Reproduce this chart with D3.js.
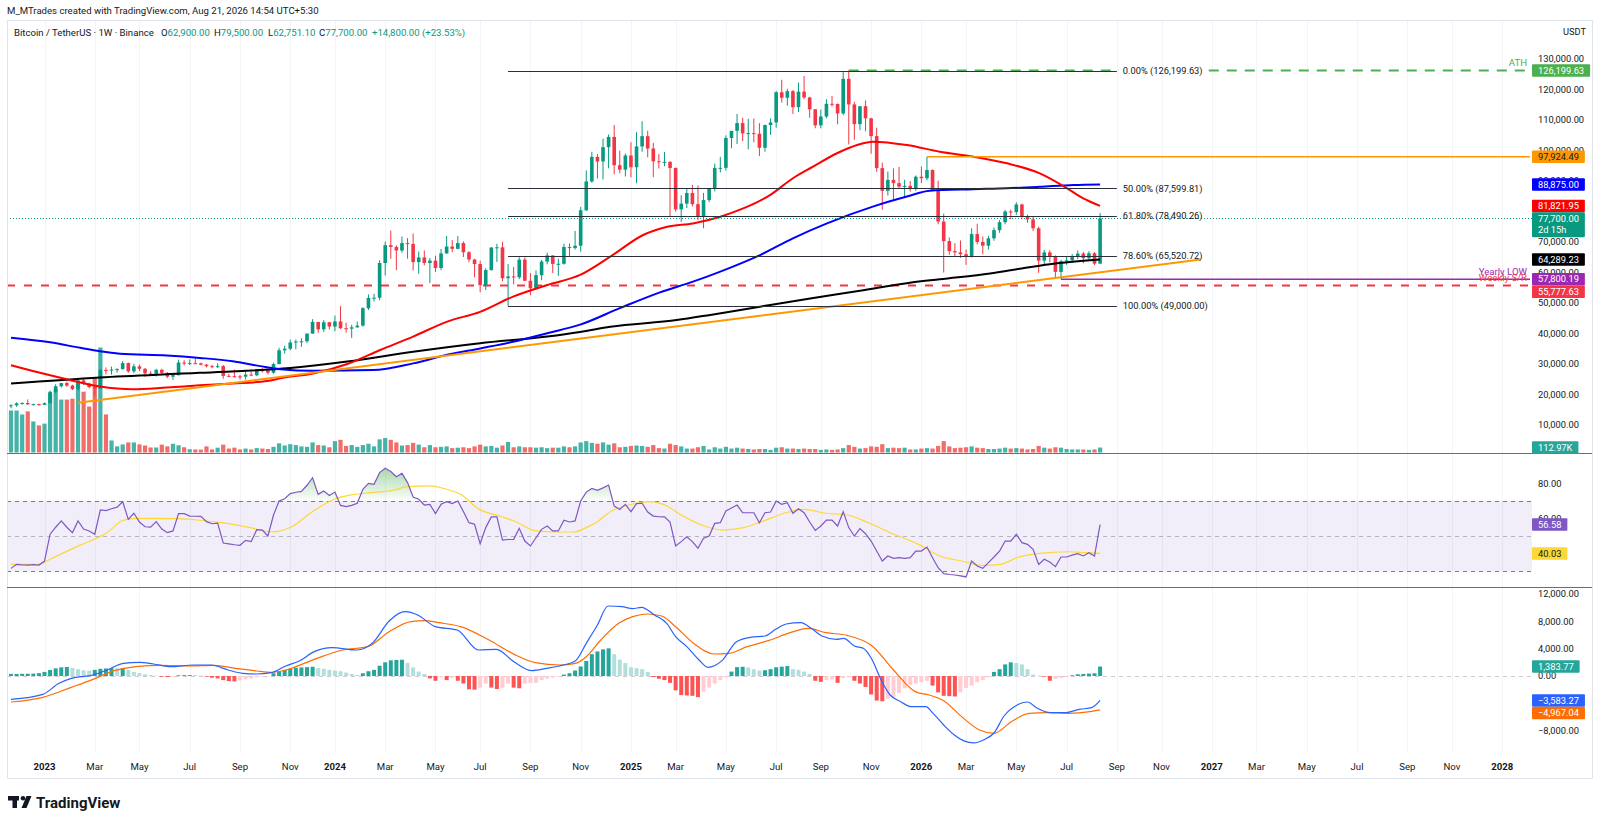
<!DOCTYPE html>
<html><head><meta charset="utf-8"><title>BTCUSDT 1W</title>
<script src="https://cdn.jsdelivr.net/npm/d3@7/dist/d3.min.js"></script>
<style>
html,body{margin:0;padding:0;background:#fff;}
svg{display:block;font-family:Roboto,"Liberation Sans",Arial,sans-serif;}
</style></head><body>
<svg id="chart" width="1600" height="825"></svg>
<script>
// ---------------- DATA ----------------
const startDate = "2022-11-21"; // first weekly bar (Monday)
const opens = [16290,16460,17100,17210,16780,16840,16620,17130,20880,22710,
23740,22930,21780,24630,23560,22430,21990,28040,27990,28170,
28330,30300,27590,29230,28430,26920,26750,28080,27110,25840,
26340,30470,30170,30290,30240,29780,29280,29030,29300,26100,
26000,25970,25840,26530,26300,27990,27930,27150,29990,34500,
35010,37060,37360,37450,39970,43790,41370,43700,42280,43950,
41730,41580,42030,42580,48300,51660,51730,63110,68950,68390,
67210,69640,69360,63420,64940,63120,63900,61480,66270,68510,
67760,69650,66640,64250,62770,55850,60800,68160,68260,58120,
58710,58430,64220,57300,54840,59130,63580,65600,62820,62860,
68360,68000,68770,80400,89850,97900,96400,101100,104460,95180,
93720,98360,94500,101330,104700,100650,96460,96150,96280,94270,
80700,82580,86080,82400,78370,83750,87500,94300,94320,104100,
106450,109000,105600,105700,105500,100900,108350,109200,119100,117300,
119450,114200,119300,117400,113500,108250,111150,115300,115250,112150,
123500,115100,108640,114530,110540,104720,94220,86800,90360,89300,
88150,88400,87700,91400,90900,93600,87000,76700,70300,67000,
66600,66000,65300,72600,70000,68800,71200,73900,76500,80000,
79800,82300,78200,77400,74500,63900,66600,65100,60200,63700,
64000,65300,66200,64700,66300,62900];
const highs = [16800,17430,17420,18390,16960,16970,17400,21260,23370,23820,
24250,23200,25250,25130,23880,22600,28470,28870,29190,28600,
31000,30480,30040,29820,28660,27660,28450,28450,27350,26800,
31430,31280,31500,31800,30440,29990,29730,30250,29690,26820,
28140,26430,27480,27480,28050,28600,28000,30400,35280,35980,
37980,38000,38440,39980,44700,43800,44400,43800,45880,48970,
43580,42840,43880,48590,52820,52990,64000,70140,73780,68920,
71770,71280,72800,66870,67230,64730,65500,67700,71980,70600,
71950,70200,66990,64500,63860,61400,68370,69400,70080,62750,
61800,65000,64960,59800,60670,64130,66500,65620,64470,69400,
69500,73620,81500,93480,99590,98870,103900,105250,108350,99960,
99000,102720,106000,109590,106450,102500,98830,99500,96500,94400,
85300,87450,88770,88500,86100,86430,95700,97900,104950,105800,
111980,110700,110400,110500,108950,108500,110550,119500,123200,120250,
119800,122300,124470,117600,113600,113400,116800,117900,115400,125700,
126199.63,115970,114000,116400,110750,107500,96000,93100,94150,94600,
90400,90000,91800,94800,97924.49,93800,90100,79300,71500,69600,
70500,67500,74500,76000,71800,72000,74800,77200,80500,80600,
83000,82600,79000,78200,75000,67400,67300,65600,64200,65400,
66000,67200,66800,67000,66700,79500];
const lows = [15480,16000,16680,16530,16400,16330,16600,17100,20400,22300,
22500,21450,21350,23120,21970,19550,21830,26600,26510,27200,
28170,27130,26940,27660,25810,26360,25870,26600,25350,24800,
26230,29500,29700,29950,29520,28860,28580,28700,25170,25800,
25580,24900,24900,26000,25990,27200,26540,26800,29880,33400,
34520,34800,35630,36870,39950,40200,40530,41280,40750,41500,
40280,38550,41880,42250,47700,50520,50900,59000,64500,60770,
66480,64500,60660,59600,62380,56550,60190,60750,66100,66650,
67600,65080,63380,58400,53500,54250,60630,63450,57120,49000,
56100,57800,57200,52550,54600,57500,62670,59820,58890,62580,
65100,67500,66830,80200,89400,90790,90500,94150,92180,92520,
91500,91200,89250,99600,97770,91230,94090,94850,78260,80000,
76600,81150,81650,77150,74500,83100,86600,92800,93400,100700,
102100,103100,100370,102700,98200,99600,105100,107450,115700,114700,
112000,112600,116800,110700,107300,107270,110600,114400,108600,111600,
102000,103530,106660,106300,98940,93000,80600,85250,83800,87500,
84400,86500,86800,89300,90200,86800,75800,60000,65800,65200,
64800,62500,64900,69200,66000,67500,70400,73000,75800,77500,
78900,77400,76300,73600,59900,62400,63300,58400,57800.19,62500,
63200,64400,63000,64000,62400,62751.10];
const closes = [16460,17100,17210,16780,16840,16620,17130,20880,22710,23740,
22930,21780,24630,23560,22430,21990,28040,27990,28170,28330,
30300,27590,29230,28430,26920,26750,28080,27110,25840,26340,
30470,30170,30290,30240,29780,29280,29030,29300,26100,26000,
25970,25840,26530,26300,27990,27930,27150,29990,34500,35010,
37060,37360,37450,39970,43790,41370,43700,42280,43950,41730,
41580,42030,42580,48300,51660,51730,63110,68950,68390,67210,
69640,69360,63420,64940,63120,63900,61480,66270,68510,67760,
69650,66640,64250,62770,55850,60800,68160,68260,58120,58710,
58430,64220,57300,54840,59130,63580,65600,62820,62860,68360,
68000,68770,80400,89850,97900,96400,101100,104460,95180,93720,
98360,94500,101330,104700,100650,96460,96150,96280,94270,80700,
82580,86080,82400,78370,83750,87500,94300,94320,104100,106450,
109000,105600,105700,105500,100900,108350,109200,119100,117300,119450,
114200,119300,117400,113500,108250,111150,115300,115250,112150,123500,
115100,108640,114530,110540,104720,94220,86800,90360,89300,88150,
88400,87700,91400,90900,93600,87000,76700,70300,67000,66600,
66000,65300,72600,70000,68800,71200,73900,76500,80000,79800,
82300,78200,77400,74500,63900,66600,65100,60200,63700,64000,
65300,66200,64700,66300,62900,77700];
// volume in thousands of BTC
const volumes = [960,960,870,940,710,620,660,1350,1440,1210,
1210,1230,1580,1390,1050,1710,2400,870,275,140,
185,230,230,185,160,115,115,180,140,200,
165,120,75,70,65,140,70,110,180,90,
110,70,90,70,100,90,80,130,210,160,
190,170,140,130,230,170,160,120,260,290,
150,170,130,170,200,140,300,330,290,230,
160,170,220,180,120,170,120,130,140,100,
110,120,100,140,180,140,150,110,160,240,
120,140,120,120,110,120,100,110,110,140,
120,140,230,260,220,200,230,180,210,120,
130,150,160,150,130,170,100,90,200,170,
140,90,90,120,150,70,120,90,130,90,
110,90,80,70,80,80,60,110,120,90,
90,80,90,80,80,60,70,60,70,100,
170,130,90,100,140,130,190,100,110,100,
110,70,70,90,100,90,150,260,140,100,
110,120,140,110,100,80,80,90,110,90,
100,90,70,80,150,110,90,120,110,80,
70,70,70,60,70,112.97];
// moving averages: [bar index, price]
const ma50Pts = [[0,29600],[3.9,27700],[10,25000],[15.9,22600],[21.8,21700],[27.9,22300],[33.8,23000],[39.7,23600],[45.8,24400],[48.7,25500],[54.1,26900],[60.2,30000],[66.1,34600],[72,39000],[78.1,43900],[84,47100],[89.9,52100],[96,55900],[101.9,59200],[107.3,65200],[113.2,72300],[117.5,75000],[122.1,76100],[127,78300],[131.1,81000],[135.9,85400],[140,90900],[143.6,94700],[147.9,99100],[151.5,101800],[154.3,102900],[160.4,101800],[166.3,99600],[172.2,98000],[178.3,95800],[184.2,92500],[189.1,87600],[192,84300],[195,81821.95]];
const ma100Pts = [[0,38600],[7,37100],[12.4,35300],[15.9,34200],[19.5,33400],[27.9,32800],[33.8,32000],[39.7,30900],[44.6,29300],[48.2,28300],[54.1,27800],[64.8,28000],[72,30200],[78.1,33000],[84,35100],[89.9,37300],[96,40100],[101.9,42900],[109,48300],[116.2,53500],[122.1,57000],[127,60300],[134.1,65700],[140,71200],[146.1,76100],[154.3,81600],[160.4,84900],[164.5,86800],[172.2,87300],[178.3,87600],[184.2,88100],[190.2,88700],[195,88875]];
const ma200Pts = [[0,23600],[15.9,25600],[33.8,27100],[50,28700],[60.2,30800],[72,34000],[84,36800],[96,39000],[101.9,40500],[107.3,42200],[119.2,44400],[125.2,46100],[134.1,48800],[143.1,51500],[152,54000],[160.4,56500],[166.3,57800],[175.3,59700],[181.2,61400],[187.3,63000],[195,64289.23]];
// RSI (14) per bar and its moving average
const rsi = [31.5,33.8,33.5,33.4,33.6,33.4,35.7,51,55,58.6,
55,51.9,58.6,54,52.9,51,64.9,64.5,65.6,66.5,
69.6,59.5,63,58,55.3,55.1,58.2,54,51.9,52.9,
62.8,62.8,61.4,61.3,61.2,58.2,57,57.4,46,45.5,
45,44.7,47.5,46.8,53.6,53.4,50,62,70,71.3,
74.2,75,75.5,79,83.3,73.8,75.7,73.2,75.1,67.5,
66.8,67.5,68.7,76.7,80.1,79.5,86.2,88.7,86.8,83.9,
85.8,80.5,72.3,71,67.7,68.1,62.8,68.1,69.6,68.5,
70,64,57.6,56.7,45.6,54.8,60.9,60.9,47.7,48,
48.1,54.4,47.1,44.3,49,53.8,55.7,52.9,52.9,59,
58,58.6,70,75.1,77.2,76.1,77.5,79.1,67.1,65.2,
68.1,63.9,68.5,68.7,63.7,61.4,61,60.9,58,44.3,
46.8,49.6,46.8,43,48.7,50,57.2,57.6,64.3,66,
67.7,63.3,63.3,63.3,57.6,63.3,63.7,70,68.1,69,
63,65.6,63.3,58,53.2,55.7,59.1,59.1,55.7,63.9,
54.8,50,54.2,51.3,47.1,41.4,35.7,38.6,37.2,37.6,
37.2,37.6,41.4,41.4,43.7,37.6,31.9,28.5,28,27.7,
27.2,26.6,35.7,32.9,31.5,34.8,38,41.4,47.1,47.1,
51,46.2,45.2,42.4,33.8,36.7,35.1,32.5,38,38,
39.1,39.9,38.6,40.5,38.6,56.58];
const rsiMAPts = [[0,33.8],[5,33.8],[7,36.7],[9.5,40.5],[12.7,45.2],[15.3,48.7],[17.2,51.9],[19.8,58.6],[21.7,59.9],[24.9,60.1],[30,59.9],[33.8,59],[37.7,57.6],[42.8,54.8],[46.6,52.3],[50.5,55.7],[53.7,63.3],[58.1,71.3],[60.7,73.4],[64.5,74.8],[68.4,76.1],[71,78.2],[74.8,78.6],[78,76.7],[80.5,73.8],[83.7,65.5],[87.5,61.4],[90.1,58.6],[94,52.9],[97.8,52.3],[100.8,52.3],[103,54.8],[105,58.2],[107.5,64.3],[110.7,67.7],[114.5,69.6],[116.8,68.1],[120.3,61.4],[124.1,55.7],[127.3,53.4],[131.2,54.8],[134.4,58.2],[138.8,63.3],[142,65.2],[145.9,63],[149.7,62],[153.5,57.6],[157.4,51.9],[162.5,45.2],[166.3,38.6],[170.2,35.7],[174,33.2],[177.2,33.8],[180.4,38],[184.2,40.1],[189.4,41],[192.5,40.5],[195,40.03]];
// MACD (12,26,9)
const macdPts = [[0,-3418],[5.7,-2686],[8.6,-1074],[10.8,-342],[14.7,146],[17.2,879],[20.1,1855],[23,2002],[25.5,1758],[28.7,1367],[32.6,1611],[35.8,1611],[38.9,879],[41.5,391],[44,293],[46.6,488],[49.2,1465],[51.7,2246],[54.3,3565],[57.5,4151],[61.9,3809],[64.8,4883],[67.7,8057],[70.6,9424],[72.8,8936],[76,7227],[79.9,6739],[83.7,3809],[86.9,3907],[90.1,2051],[93.3,781],[95.9,1123],[98.9,1611],[101.1,2246],[103,4785],[105,7471],[106.9,10254],[109.4,10156],[111.3,9863],[112.9,10058],[115.2,8936],[117.4,7715],[119,5762],[121,4297],[123.2,2344],[124.8,1270],[127.3,2246],[129.9,5029],[132.4,5664],[135,5860],[136.9,6836],[138.8,7617],[141.4,7813],[143.3,6983],[145.2,5860],[147.8,5371],[149.1,5518],[151,4395],[152.6,4053],[154.2,2344],[155.8,-586],[157.4,-2783],[159.3,-3760],[161.2,-4492],[163.8,-4492],[165.1,-5469],[167,-7178],[168.9,-8643],[170.6,-9500],[172.4,-9800],[174.3,-9300],[176,-8350],[177.8,-5860],[180.4,-4150],[182,-3809],[183.6,-4639],[186.1,-5371],[188.7,-5371],[191.3,-4883],[193.5,-4639],[195,-3583.27]];
const signalPts = [[0,-3809],[5.7,-3125],[10.8,-1660],[14.7,-488],[18.5,781],[22.3,1367],[26.8,1562],[31.3,1465],[36.4,1562],[40.2,1123],[44,732],[46.6,537],[49.2,879],[54.3,2441],[59.4,3809],[63.9,4297],[67.7,6494],[71.6,7959],[74.1,8105],[76.6,7813],[80.5,7227],[85.6,5274],[90.1,3174],[93.9,1953],[98.3,1611],[101.1,1855],[103,2832],[105.6,5273],[108.8,7715],[111.3,8691],[113.9,9082],[116.5,8789],[119,7227],[122.2,4785],[126,3223],[128.6,3320],[131.8,4297],[135.6,5176],[139.5,6348],[142.7,6983],[145.9,6348],[149.7,5957],[154.2,4395],[158,879],[161.9,-2295],[164.4,-2783],[167,-3613],[170.2,-5957],[173.4,-7910],[176,-8398],[179.1,-6690],[182.3,-5469],[185.5,-5371],[189.4,-5469],[193.2,-5225],[195,-4967.04]];
const macdHist = [300,300,320,330,350,420,600,880,1120,1270,
1320,1170,1000,850,780,900,1050,1100,1150,1120,
1130,880,600,420,250,150,50,-100,-150,-120,
100,120,130,120,60,-100,-250,-350,-600,-750,
-800,-650,-500,-350,-200,-80,-30,400,700,900,
1050,1200,1250,1300,1350,1150,1050,900,800,700,
500,300,150,400,700,900,1500,2000,2300,2350,
2380,1900,1250,650,300,-350,-700,-200,-600,-300,
-700,-1100,-1950,-2000,-1700,-1100,-1700,-1900,-1700,-1100,
-1700,-1800,-1100,-1050,-1000,-600,-400,-250,-100,200,
400,800,1400,2200,3200,3600,3900,4050,3200,2400,
1900,1300,1150,1000,600,-150,-400,-600,-1000,-2100,
-2800,-2850,-2900,-3100,-2300,-1700,-1100,-600,-200,650,
1300,1350,1250,1000,800,850,1000,1270,1370,1450,
1000,900,650,300,-700,-850,-600,-500,-1000,-300,
-200,-700,-1100,-1600,-2700,-3600,-3700,-3300,-3100,-2500,
-1800,-1300,-1100,-900,-700,-1400,-2400,-2900,-2950,-3000,
-2400,-1750,-1400,-900,-600,-200,600,1000,1700,2000,
1900,1700,1000,200,50,-100,-700,-450,-300,-150,
100,250,300,350,400,1383.77];
// drawings
const fibRatios = ["0.00%","50.00%","61.80%","78.60%","100.00%"];
const fibPrices = [126199.63,87599.81,78490.26,65520.72,49000];
const fibStartBar = 89, fibEndBar = 198;
const trendPts = [[12,17300],[213,64300]];
const athPrice = 126199.63, athBar = 150;
const hLevelPrice = 97924.49, hLevelBar = 164;
const yearlyLow = 57800.19, yearlyLowBar = 188;
const weeklySR = 55777.63;
// ticks (labels fully covered by value tags in the reference are omitted)
const priceTicks = [10000,20000,30000,40000,50000,60000,70000,90000,100000,110000,120000,130000];
const rsiTicks = [80,60];
const macdTicks = [12000,8000,4000,0,-8000];
const xTickLabels = ["2023","Mar","May","Jul","Sep","Nov","2024","Mar","May","Jul","Sep","Nov","2025","Mar","May","Jul","Sep","Nov","2026","Mar","May","Jul","Sep","Nov","2027","Mar","May","Jul","Sep","Nov","2028"];
const xTickDates = ["2023-01-02","2023-03-06","2023-05-01","2023-07-03","2023-09-04","2023-11-06","2024-01-01","2024-03-04","2024-05-06","2024-07-01","2024-09-02","2024-11-04","2025-01-06","2025-03-03","2025-05-05","2025-07-07","2025-09-01","2025-11-03","2026-01-05","2026-03-02","2026-05-04","2026-07-06","2026-09-07","2026-11-02","2027-01-04","2027-03-01","2027-05-03","2027-07-05","2027-09-06","2027-11-01","2028-01-03"];

// ---------------- LAYOUT ----------------
const svg = d3.select("#chart");
const UP = "#089981", DN = "#f23645", TXT = "#131722";
const FS = 9.3;
const PL = 7, PR = 1532, AX = 1592;
const TOP = 20, MAIN_B = 453, RSI_B = 587, MACD_B = 752, AXIS_B = 778;
const N = closes.length;

const x = d3.scaleLinear().domain([0, 195]).range([11, 1100.1]);
const y = d3.scaleLinear().domain([0, 130000]).range([455.5, 59]);
const yV = d3.scaleLinear().domain([0, 2400]).range([452.5, 347.5]);
const yR = d3.scaleLinear().domain([30, 70]).range([571, 501]);
const yM = d3.scaleLinear().domain([0, 8000]).range([676, 621.4]);
const dayMs = 864e5, t0 = Date.parse(startDate);
const dateIdx = d => (Date.parse(d) - t0) / (7 * dayMs);

svg.append("rect").attr("width", 1600).attr("height", 825).attr("fill", "#fff");

const defs = svg.append("defs");
function clip(id, y0, y1) {
  defs.append("clipPath").attr("id", id).append("rect")
    .attr("x", PL).attr("y", y0).attr("width", PR - PL).attr("height", y1 - y0);
}
clip("cMain", TOP, MAIN_B); clip("cRsi", MAIN_B, RSI_B); clip("cMacd", RSI_B, MACD_B);
defs.append("clipPath").attr("id", "cOB").append("rect").attr("x", PL).attr("y", MAIN_B).attr("width", PR - PL).attr("height", yR(70) - MAIN_B);
defs.append("clipPath").attr("id", "cOS").append("rect").attr("x", PL).attr("y", yR(30)).attr("width", PR - PL).attr("height", RSI_B - yR(30));
const gOB = defs.append("linearGradient").attr("id", "gOB").attr("gradientUnits", "userSpaceOnUse")
  .attr("x1", 0).attr("x2", 0).attr("y1", yR(100)).attr("y2", yR(70));
gOB.append("stop").attr("offset", 0).attr("stop-color", "rgba(76,175,80,0.75)");
gOB.append("stop").attr("offset", 1).attr("stop-color", "rgba(76,175,80,0.02)");
const gOS = defs.append("linearGradient").attr("id", "gOS").attr("gradientUnits", "userSpaceOnUse")
  .attr("x1", 0).attr("x2", 0).attr("y1", yR(30)).attr("y2", yR(0));
gOS.append("stop").attr("offset", 0).attr("stop-color", "rgba(242,54,69,0.02)");
gOS.append("stop").attr("offset", 1).attr("stop-color", "rgba(242,54,69,0.75)");

// grid
const gGrid = svg.append("g");
xTickDates.forEach(d => {
  const xx = Math.round(x(dateIdx(d))) + 0.5;
  if (xx > PL && xx < PR) gGrid.append("line").attr("x1", xx).attr("x2", xx).attr("y1", TOP).attr("y2", MACD_B).attr("stroke", "#f3f4f6");
});

// ---------------- MAIN PANE ----------------
const gMain = svg.append("g").attr("clip-path", "url(#cMain)");
const idx = d3.range(N);
// volume
gMain.append("g").selectAll("rect").data(idx).join("rect")
  .attr("x", i => x(i) - 2.1).attr("width", 4.2)
  .attr("y", i => yV(volumes[i])).attr("height", i => yV(0) - yV(volumes[i]))
  .attr("fill", i => closes[i] >= opens[i] ? "#26a69a" : "#ef5350").attr("opacity", 0.85);
// weekly S/R dashed
gMain.append("line").attr("x1", PL).attr("x2", 1530).attr("y1", y(weeklySR)).attr("y2", y(weeklySR))
  .attr("stroke", "#f23645").attr("stroke-width", 2).attr("stroke-dasharray", "8,9");
// candles
const gC = gMain.append("g");
gC.selectAll("line").data(idx).join("line")
  .attr("x1", i => x(i)).attr("x2", i => x(i)).attr("y1", i => y(highs[i])).attr("y2", i => y(lows[i]))
  .attr("stroke", i => closes[i] >= opens[i] ? UP : DN).attr("stroke-width", 1);
gC.selectAll("rect").data(idx).join("rect")
  .attr("x", i => x(i) - 1.8).attr("width", 3.6)
  .attr("y", i => y(Math.max(opens[i], closes[i])))
  .attr("height", i => Math.max(1, Math.abs(y(opens[i]) - y(closes[i]))))
  .attr("fill", i => closes[i] >= opens[i] ? UP : DN);
// moving averages
const maLine = d3.line().x(d => x(d[0])).y(d => y(d[1])).curve(d3.curveMonotoneX);
gMain.append("path").attr("d", maLine(ma200Pts)).attr("fill", "none").attr("stroke", "#000").attr("stroke-width", 2);
gMain.append("path").attr("d", maLine(ma100Pts)).attr("fill", "none").attr("stroke", "#0000ff").attr("stroke-width", 2);
gMain.append("path").attr("d", maLine(ma50Pts)).attr("fill", "none").attr("stroke", "#ff0000").attr("stroke-width", 2);
// trend line
gMain.append("line").attr("x1", x(trendPts[0][0])).attr("y1", y(trendPts[0][1]))
  .attr("x2", x(trendPts[1][0])).attr("y2", y(trendPts[1][1])).attr("stroke", "#ff9800").attr("stroke-width", 2);
// horizontal rays
gMain.append("line").attr("x1", x(hLevelBar)).attr("x2", 1530).attr("y1", y(hLevelPrice)).attr("y2", y(hLevelPrice)).attr("stroke", "#ff9800").attr("stroke-width", 1.5);
gMain.append("line").attr("x1", x(yearlyLowBar)).attr("x2", 1530).attr("y1", y(yearlyLow)).attr("y2", y(yearlyLow)).attr("stroke", "#9c27b0").attr("stroke-width", 1.5);
gMain.append("line").attr("x1", x(athBar)).attr("x2", 1530).attr("y1", y(athPrice)).attr("y2", y(athPrice))
  .attr("stroke", "#4caf50").attr("stroke-width", 2).attr("stroke-dasharray", "10,8");
// current price line
gMain.append("line").attr("x1", PL).attr("x2", PR).attr("y1", y(closes[N - 1])).attr("y2", y(closes[N - 1]))
  .attr("stroke", UP).attr("stroke-width", 1).attr("stroke-dasharray", "1,2");
// fib
fibPrices.forEach((p, k) => {
  gMain.append("line").attr("x1", x(fibStartBar)).attr("x2", x(fibEndBar)).attr("y1", Math.round(y(p)) + 0.5).attr("y2", Math.round(y(p)) + 0.5)
    .attr("stroke", "#2a2e39").attr("stroke-width", 1);
  const g = svg.append("g");
  const bg = g.append("rect").attr("fill", "#fff");
  const t = g.append("text").attr("x", x(fibEndBar) + 6).attr("y", y(p)).attr("dy", "0.35em")
    .attr("font-size", FS).attr("fill", TXT).text(fibRatios[k] + " (" + d3.format(",.2f")(p) + ")");
  if (k === 0) {
    const w = t.node().getComputedTextLength();
    bg.attr("x", x(fibEndBar) + 2).attr("y", y(p) - 5).attr("width", w + 8).attr("height", 10);
  } else bg.remove();
});
// drawing labels
svg.append("text").attr("x", 1527).attr("y", y(athPrice) - 8).attr("dy", "0.35em").attr("text-anchor", "end").attr("font-size", 9.6).attr("fill", "#4caf50").text("ATH");
svg.append("text").attr("x", 1527).attr("y", y(yearlyLow) - 7.5).attr("dy", "0.35em").attr("text-anchor", "end").attr("font-size", 9.6).attr("fill", "#9c27b0").text("Yearly LOW");
svg.append("text").attr("x", 1527).attr("y", y(weeklySR) - 7.5).attr("dy", "0.35em").attr("text-anchor", "end").attr("font-size", 9.6).attr("fill", "#f23645").text("Weekly S/R");

// ---------------- RSI PANE ----------------
const gR = svg.append("g").attr("clip-path", "url(#cRsi)");
gR.append("rect").attr("x", PL).attr("width", PR - PL).attr("y", yR(70)).attr("height", yR(30) - yR(70)).attr("fill", "rgba(126,87,194,0.1)");
[[70, "#787b86"], [50, "#b2b5be"], [30, "#787b86"]].forEach(([v, c]) => {
  gR.append("line").attr("x1", PL).attr("x2", PR).attr("y1", Math.round(yR(v)) + 0.5).attr("y2", Math.round(yR(v)) + 0.5)
    .attr("stroke", c).attr("stroke-dasharray", "4,4");
});
const rsiPts = rsi.map((v, i) => [i, v]);
gR.append("path").attr("clip-path", "url(#cOB)")
  .attr("d", d3.area().x(d => x(d[0])).y0(yR(70)).y1(d => yR(d[1]))(rsiPts)).attr("fill", "url(#gOB)");
gR.append("path").attr("clip-path", "url(#cOS)")
  .attr("d", d3.area().x(d => x(d[0])).y0(yR(30)).y1(d => yR(d[1]))(rsiPts)).attr("fill", "url(#gOS)");
gR.append("path").attr("d", d3.line().x(d => x(d[0])).y(d => yR(d[1])).curve(d3.curveMonotoneX)(rsiMAPts))
  .attr("fill", "none").attr("stroke", "#fdd835").attr("stroke-width", 1.2);
gR.append("path").attr("d", d3.line().x(d => x(d[0])).y(d => yR(d[1]))(rsiPts))
  .attr("fill", "none").attr("stroke", "#7e57c2").attr("stroke-width", 1.2);

// ---------------- MACD PANE ----------------
const gM = svg.append("g").attr("clip-path", "url(#cMacd)");
gM.append("line").attr("x1", PL).attr("x2", PR).attr("y1", 676.5).attr("y2", 676.5).attr("stroke", "#c9cbd1").attr("stroke-dasharray", "4,4");
function histColor(i) {
  const h = macdHist[i], p = i > 0 ? macdHist[i - 1] : h;
  if (h >= 0) return h >= p ? "#26a69a" : "#b2dfdb";
  return h < p ? "#ff5252" : "#ffcdd2";
}
gM.selectAll("rect.h").data(idx).join("rect").attr("class", "h")
  .attr("x", i => x(i) - 2).attr("width", 4)
  .attr("y", i => Math.min(yM(0), yM(macdHist[i])))
  .attr("height", i => Math.abs(yM(macdHist[i]) - yM(0)))
  .attr("fill", histColor);
const mLine = d3.line().x(d => x(d[0])).y(d => yM(d[1])).curve(d3.curveMonotoneX);
gM.append("path").attr("d", mLine(signalPts)).attr("fill", "none").attr("stroke", "#ff6d00").attr("stroke-width", 1.2);
gM.append("path").attr("d", mLine(macdPts)).attr("fill", "none").attr("stroke", "#2962ff").attr("stroke-width", 1.2);

// ---------------- FRAME / SEPARATORS ----------------
svg.append("rect").attr("x", PL + 0.5).attr("y", TOP + 0.5).attr("width", AX - PL).attr("height", AXIS_B - TOP)
  .attr("fill", "none").attr("stroke", "#e0e3eb");
[MAIN_B, RSI_B].forEach(v => svg.append("line").attr("x1", PL).attr("x2", AX).attr("y1", v + 0.5).attr("y2", v + 0.5).attr("stroke", "#6a6d78"));

// ---------------- AXES ----------------
const fmt = d3.format(",.2f");
const gAx = svg.append("g").attr("font-size", FS).attr("fill", TXT);
priceTicks.forEach(v => gAx.append("text").attr("x", 1538).attr("y", y(v)).attr("dy", "0.35em").text(fmt(v)));
rsiTicks.forEach(v => gAx.append("text").attr("x", 1538).attr("y", yR(v)).attr("dy", "0.35em").text(fmt(v)));
macdTicks.forEach(v => gAx.append("text").attr("x", 1538).attr("y", yM(v)).attr("dy", "0.35em").text(fmt(v)));
svg.append("text").attr("x", 1586).attr("y", 32).attr("dy", "0.35em").attr("text-anchor", "end").attr("font-size", FS).attr("fill", TXT).text("USDT");

xTickLabels.forEach((t, k) => {
  const xx = x(dateIdx(xTickDates[k]));
  svg.append("text").attr("x", xx).attr("y", 767).attr("dy", "0.35em").attr("text-anchor", "middle")
    .attr("font-size", 9.6).attr("font-weight", /^\d{4}$/.test(t) ? "bold" : "normal").attr("fill", TXT).text(t);
});

// axis value labels
function axisLabel(yc, txt, bg, fg, lines) {
  const g = svg.append("g");
  const h = lines ? 25 : 12.5;
  const r = g.append("rect").attr("x", 1532).attr("y", yc - 6.25).attr("height", h).attr("fill", bg).attr("rx", 1);
  const t = g.append("text").attr("x", 1538).attr("y", yc).attr("dy", "0.35em").attr("font-size", FS).attr("fill", fg).text(txt);
  let w = t.node().getComputedTextLength();
  if (lines) {
    const t2 = g.append("text").attr("x", 1538).attr("y", yc + 11.5).attr("dy", "0.35em").attr("font-size", FS).attr("fill", fg).text(lines);
    w = Math.max(w, t2.node().getComputedTextLength());
  }
  r.attr("width", w + 12);
}
function stack(list) {
  list.sort((a, b) => a.y - b.y);
  for (let k = 1; k < list.length; k++) {
    const prev = list[k - 1], need = prev.y + (prev.lines ? 25 : 12.5);
    if (list[k].y < need) list[k].y = need;
  }
  list.forEach(l => axisLabel(l.y, l.t, l.bg, l.fg, l.lines));
}
stack([
  { y: y(athPrice), t: fmt(athPrice), bg: "#4caf50", fg: "#fff" },
  { y: y(hLevelPrice), t: fmt(hLevelPrice), bg: "#ff9800", fg: "#131722" },
  { y: y(ma100Pts[ma100Pts.length - 1][1]), t: fmt(ma100Pts[ma100Pts.length - 1][1]), bg: "#0000ff", fg: "#fff" },
  { y: y(ma50Pts[ma50Pts.length - 1][1]), t: fmt(ma50Pts[ma50Pts.length - 1][1]), bg: "#ff0000", fg: "#fff" },
  { y: y(closes[N - 1]), t: fmt(closes[N - 1]), bg: UP, fg: "#fff", lines: "2d 15h" },
  { y: y(ma200Pts[ma200Pts.length - 1][1]), t: fmt(ma200Pts[ma200Pts.length - 1][1]), bg: "#000", fg: "#fff" },
  { y: y(yearlyLow), t: fmt(yearlyLow), bg: "#9c27b0", fg: "#fff" },
  { y: y(weeklySR), t: fmt(weeklySR), bg: "#f23645", fg: "#fff" },
  { y: yV(volumes[N - 1]), t: d3.format(".2f")(volumes[N - 1]) + "K", bg: "#26a69a", fg: "#fff" }
]);
stack([
  { y: yR(rsi[N - 1]), t: fmt(rsi[N - 1]), bg: "#7e57c2", fg: "#fff" },
  { y: yR(rsiMAPts[rsiMAPts.length - 1][1]), t: fmt(rsiMAPts[rsiMAPts.length - 1][1]), bg: "#fdd835", fg: "#131722" }
]);
stack([
  { y: yM(macdHist[N - 1]), t: fmt(macdHist[N - 1]), bg: "#26a69a", fg: "#fff" },
  { y: yM(macdPts[macdPts.length - 1][1]), t: fmt(macdPts[macdPts.length - 1][1]), bg: "#2962ff", fg: "#fff" },
  { y: yM(signalPts[signalPts.length - 1][1]), t: fmt(signalPts[signalPts.length - 1][1]), bg: "#ff6d00", fg: "#fff" }
]);

// ---------------- HEADER ----------------
svg.append("text").attr("x", 7).attr("y", 11).attr("dy", "0.35em").attr("font-size", 9.6).attr("fill", TXT)
  .text("M_MTrades created with TradingView.com, Aug 21, 2026 14:54 UTC+5:30");
const hdr = svg.append("text").attr("y", 33).attr("dy", "0.35em").attr("font-size", 9.6).attr("fill", TXT);
hdr.append("tspan").attr("x", 14).text("Bitcoin / TetherUS · 1W · Binance");
const ohlc = [["O", opens[N - 1], 161], ["H", highs[N - 1], 214], ["L", lows[N - 1], 268], ["C", closes[N - 1], 319]];
ohlc.forEach(([k, v, px]) => {
  hdr.append("tspan").attr("x", px).attr("fill", TXT).text(k);
  hdr.append("tspan").attr("fill", UP).text(fmt(v));
});
const chg = closes[N - 1] - opens[N - 1];
hdr.append("tspan").attr("x", 372).attr("fill", UP).text("+" + fmt(chg) + " (+" + d3.format(".2f")(chg / opens[N - 1] * 100) + "%)");

// ---------------- LOGO ----------------
const lg = svg.append("g").attr("fill", TXT);
lg.append("rect").attr("x", 8).attr("y", 796).attr("width", 11).attr("height", 4.5);
lg.append("rect").attr("x", 12.5).attr("y", 796).attr("width", 4.5).attr("height", 12);
lg.append("circle").attr("cx", 23).attr("cy", 798.3).attr("r", 2.3);
lg.append("polygon").attr("points", "26.5,796 31.5,796 26.5,808 21.5,808");
svg.append("text").attr("x", 36).attr("y", 807.5).attr("font-size", 15).attr("font-weight", "bold").attr("fill", TXT).text("TradingView");
</script>
</body></html>
